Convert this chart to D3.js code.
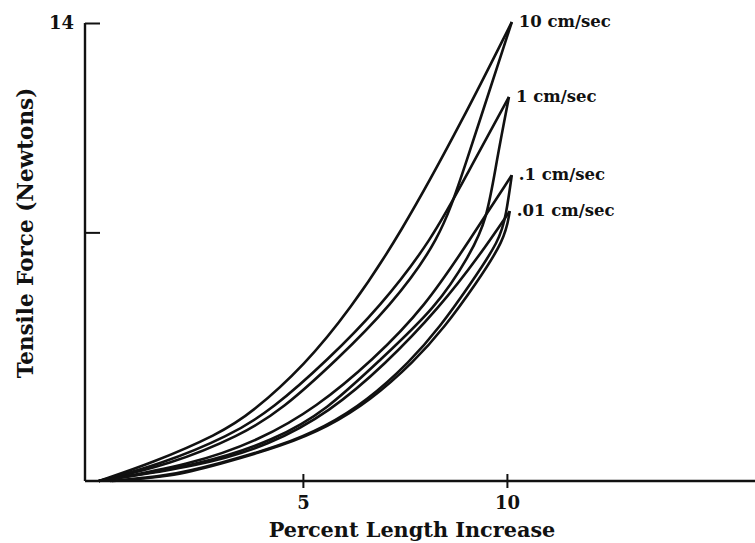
<!DOCTYPE html>
<html>
<head>
<meta charset="utf-8">
<script src="https://cdn.jsdelivr.net/npm/d3@7"></script>
<style>
  body { margin: 0; background: #fff; }
  text { font-family: "DejaVu Serif", serif; font-weight: bold; fill: #111; }
</style>
</head>
<body>
<script>
// speeds (labels at loop tips)
var speeds = ["10 cm/sec", "1 cm/sec", ".1 cm/sec", ".01 cm/sec"];

// loading curves [percent length, newtons]
var load10  = [[0,0],[1.30,0.55],[2.92,1.42],[3.77,2.10],[5.05,3.55],[6.15,5.23],[7.38,7.52],[8.92,11.04],[10.12,14.03]];
var load1   = [[0,0],[1.50,0.50],[3.21,1.38],[4.26,2.20],[5.61,3.70],[6.89,5.32],[8.16,7.37],[9.04,9.42],[10.05,11.74]];
var load01  = [[0,0],[2.23,0.49],[3.95,1.25],[5.34,2.26],[6.72,3.70],[7.99,5.32],[9.09,7.37],[10.12,9.35]];
var load001 = [[0,0],[2.48,0.46],[4.19,1.10],[5.66,2.11],[7.01,3.55],[8.36,5.32],[9.34,6.91],[10.07,8.25]];

// unloading curves, from the tip back down
var unload10  = [[10.12,14.03],[8.92,9.42],[8.36,7.37],[7.13,5.32],[5.83,3.70],[4.51,2.20],[3.46,1.38],[1.74,0.50],[0,0]];
var unload1   = [[10.05,11.74],[9.75,9.81],[9.51,7.98],[9.09,6.91],[8.28,5.32],[6.89,3.70],[5.59,2.17],[4.31,1.25],[2.48,0.49],[0,0]];
var unload01  = [[10.12,9.35],[9.98,8.13],[9.83,7.37],[9.09,5.99],[8.36,4.71],[7.62,3.64],[6.57,2.45],[5.54,1.65],[4.44,1.07],[2.92,0.52],[1.69,0.15],[0.27,0]];
var unload001 = [[10.07,8.25],[9.95,7.37],[9.22,5.99],[8.48,4.71],[7.72,3.64],[6.64,2.45],[5.61,1.65],[4.49,1.07],[2.97,0.52],[1.74,0.12],[0.32,0]];

var xTicks = [5, 10];
var yTicks = [7.6, 14];

var loops = [
  { name: speeds[0], load: load10, unload: unload10 },
  { name: speeds[1], load: load1, unload: unload1 },
  { name: speeds[2], load: load01, unload: unload01 },
  { name: speeds[3], load: load001, unload: unload001 }
];

var width = 755, height = 543;

var x = d3.scaleLinear().domain([-0.34, 16.08]).range([85, 755]);
var y = d3.scaleLinear().domain([0, 14]).range([481, 23]);

var svg = d3.select("body").append("svg")
  .attr("width", width)
  .attr("height", height);

var line = d3.line()
  .x(function (d) { return x(d[0]); })
  .y(function (d) { return y(d[1]); })
  .curve(d3.curveBasis);

// loops
var g = svg.selectAll(".loop")
  .data(loops)
  .enter().append("g")
  .attr("class", "loop");

g.append("path")
  .attr("d", function (d) { return line(d.load); })
  .attr("fill", "none").attr("stroke", "#111").attr("stroke-width", 2.6);

g.append("path")
  .attr("d", function (d) { return line(d.unload); })
  .attr("fill", "none").attr("stroke", "#111").attr("stroke-width", 2.6);

g.append("text")
  .attr("x", function (d) { return x(d.load[d.load.length - 1][0]) + 7; })
  .attr("y", function (d) { return y(d.load[d.load.length - 1][1]) + 5; })
  .attr("font-size", 16.5)
  .text(function (d) { return d.name; });

// x axis
var xAxis = d3.axisBottom(x)
  .tickValues(xTicks)
  .tickSize(7)
  .tickPadding(8)
  .tickFormat(d3.format("d"));

var gx = svg.append("g")
  .attr("transform", "translate(0," + y(0) + ")")
  .call(xAxis);
gx.select(".domain").attr("d", "M85,0H755").attr("stroke-width", 2.4).attr("stroke", "#111");
gx.selectAll(".tick line").attr("y1", -7).attr("stroke-width", 2).attr("stroke", "#111");
gx.selectAll(".tick text").attr("font-size", 18).attr("font-family", "DejaVu Serif").attr("font-weight", "bold").attr("fill", "#111");

// y axis, ticks pointing inward
var yAxis = d3.axisLeft(y)
  .tickValues(yTicks)
  .tickSize(-15)
  .tickPadding(11)
  .tickFormat(function (d) { return d === 14 ? "14" : ""; });

var gy = svg.append("g")
  .attr("transform", "translate(85,0)")
  .call(yAxis);
gy.select(".domain").attr("d", "M0," + y(14) + "V" + y(0)).attr("stroke-width", 2.4).attr("stroke", "#111");
gy.selectAll(".tick line").attr("stroke-width", 2).attr("stroke", "#111");
gy.selectAll(".tick text").attr("x", -11).attr("font-size", 18).attr("font-family", "DejaVu Serif").attr("font-weight", "bold").attr("fill", "#111");

// axis titles
svg.append("text")
  .attr("x", 412).attr("y", 537)
  .attr("text-anchor", "middle")
  .attr("font-size", 20.8)
  .text("Percent Length Increase");

svg.append("text")
  .attr("transform", "translate(33,233) rotate(-90)")
  .attr("text-anchor", "middle")
  .attr("font-size", 21.5)
  .text("Tensile Force (Newtons)");
</script>
</body>
</html>
